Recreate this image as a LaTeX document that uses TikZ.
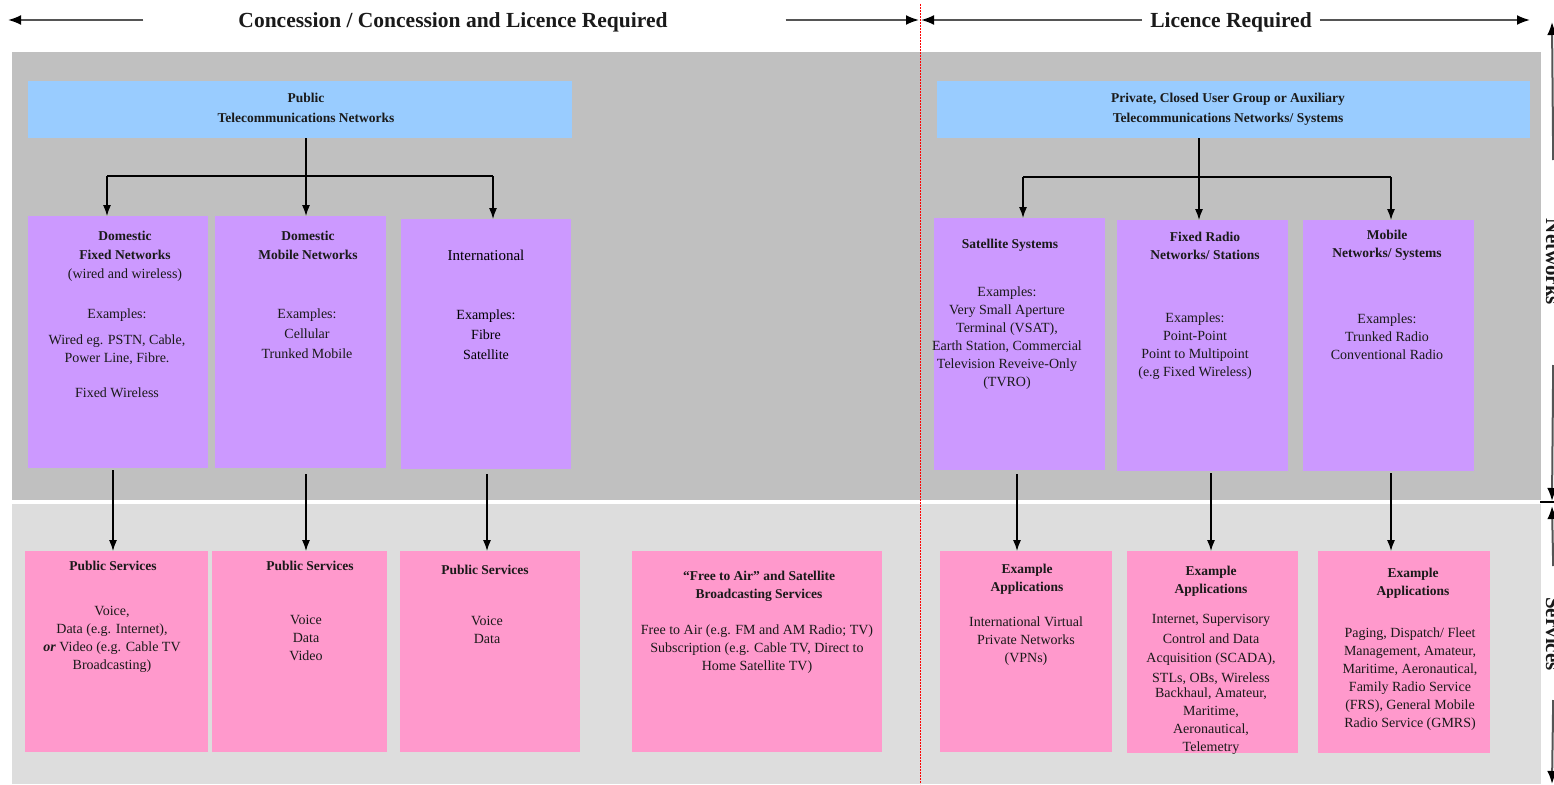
\documentclass[tikz,border=0pt]{standalone}
\usepackage{fontspec}
\setmainfont{Liberation Serif}
\usetikzlibrary{arrows.meta,calc}
\definecolor{topgray}{HTML}{C0C0C0}
\definecolor{botgray}{HTML}{DDDDDD}
\definecolor{bluefill}{HTML}{99CCFF}
\definecolor{purplefill}{HTML}{CC99FF}
\definecolor{pinkfill}{HTML}{FF99CC}
\definecolor{hdrline}{HTML}{555555}
\definecolor{txtcol}{HTML}{1A1A1A}
\begin{document}
\begin{tikzpicture}[x=1pt,y=-1pt,
  box/.style={draw=none, inner sep=0pt, outer sep=0pt},
  bluebx/.style={box, fill=bluefill},
  purbx/.style={box, fill=purplefill},
  pinkbx/.style={box, fill=pinkfill},
  hd/.style={font=\fontsize{13.5}{18}\selectfont\bfseries, align=center, inner sep=0pt, anchor=north, text=txtcol},
  bd/.style={font=\fontsize{14}{18}\selectfont, align=center, inner sep=0pt, anchor=north, text=txtcol},
  conn/.style={line width=1.2pt, black},
  arr/.style={line width=1.2pt, black, -{Latex[length=11pt,width=8pt]}},
  hdarr/.style={draw=hdrline, line width=2pt, -{Latex[length=13pt,width=10pt,color=black]}},
  hdtxt/.style={font=\fontsize{21.5}{24}\selectfont\bfseries, inner sep=0pt, anchor=base, text=txtcol},
  vtxt/.style={font=\fontsize{21}{24}\selectfont\bfseries, inner sep=0pt, anchor=base, rotate=-90, text=txtcol},
  ]
\useasboundingbox (0,0) rectangle (1554,784);
\fill[white] (0,0) rectangle (1554,784);
% background bands
\fill[topgray] (12,52) rectangle (1541,500);
\fill[botgray] (12,504) rectangle (1541,784);
% divider
\draw[red, line width=0.8pt, dash pattern=on 2pt off 1pt] (920,4) -- (920,784);

% header
\node[hdtxt] (hdL) at (453,28) {Concession / Concession and Licence Required};
\node[hdtxt] (hdR) at (1231,28) {Licence Required};
\coordinate (div) at (920,20);
\coordinate (aL) at (8,20);
\coordinate (aR) at (1530,20);
\draw[hdarr] (hdL.west |- div) ++(-95,0) -- (aL);
\draw[hdarr] (hdL.east |- div) ++(118,0) -- ([xshift=-1pt]div);
\draw[hdarr] (hdR.west |- div) ++(-8,0) -- ([xshift=1pt]div);
\draw[hdarr] (hdR.east |- div) ++(8,0) -- (aR);

% right edge labels
\node[vtxt] (vN) at (1546,262) {Networks};
\node[vtxt] (vS) at (1546,634) {Services};
\coordinate (nTop) at (1552,22);
\coordinate (nBot) at (1552,501);
\coordinate (sTop) at (1552,506);
\coordinate (sBot) at (1552,784);
\coordinate (tk) at (1540,502);
\draw[hdarr] (vN.east |- 1552,160) -- (nTop);
\draw[hdarr] (vN.east |- 1552,365) -- (nBot);
\draw[hdarr] (vS.east |- 1552,566) -- (sTop);
\draw[hdarr] (vS.east |- 1552,700) -- (sBot);
\draw[line width=1.2pt] (tk) -- (tk -| 1556,0);

% blue boxes
\node[bluebx, minimum width=544pt, minimum height=57pt] (pubT) at (300,109.5) {};
\node[bluebx, minimum width=593pt, minimum height=57pt] (privT) at (1233.5,109.5) {};
\node[hd, font=\fontsize{13.5}{20}\selectfont\bfseries] (pubTt) at (306,93) {Public\\Telecommunications Networks};
\node[hd, font=\fontsize{13.5}{20}\selectfont\bfseries] (privTt) at (1228,93) {Private, Closed User Group or Auxiliary\\Telecommunications Networks/ Systems};

% purple boxes
\node[purbx, minimum width=180pt, minimum height=252pt] (b1) at (118,342) {};
\node[purbx, minimum width=171pt, minimum height=252pt] (b2) at (300.5,342) {};
\node[purbx, minimum width=170pt, minimum height=250pt] (b3) at (486,344) {};
\node[purbx, minimum width=171pt, minimum height=252pt] (b4) at (1019.5,344) {};
\node[purbx, minimum width=171pt, minimum height=251pt] (b5) at (1202.5,345.5) {};
\node[purbx, minimum width=171pt, minimum height=251pt] (b6) at (1388.5,345.5) {};

% pink boxes
\node[pinkbx, minimum width=183pt, minimum height=201pt] (p1) at (116.5,651.5) {};
\node[pinkbx, minimum width=175pt, minimum height=201pt] (p2) at (299.5,651.5) {};
\node[pinkbx, minimum width=180pt, minimum height=201pt] (p3) at (490,651.5) {};
\node[pinkbx, minimum width=250pt, minimum height=201pt] (p4) at (757,651.5) {};
\node[pinkbx, minimum width=172pt, minimum height=201pt] (p5) at (1026,651.5) {};
\node[pinkbx, minimum width=171pt, minimum height=202pt] (p6) at (1212.5,652) {};
\node[pinkbx, minimum width=172pt, minimum height=202pt] (p7) at (1404,652) {};

% tree left
\coordinate (jL) at (306,176);
\coordinate (jL1) at (107,176);
\coordinate (jL3) at (493,176);
\draw[conn] (jL |- pubT.south) -- (jL);
\draw[conn] (jL1) -- (jL3);
\draw[arr] (jL1) -- (jL1 |- b1.north);
\draw[arr] (jL) -- (jL |- b2.north);
\draw[arr] (jL3) -- (jL3 |- b3.north);
% tree right
\coordinate (jR) at (1199,177);
\coordinate (jR1) at (1023,177);
\coordinate (jR3) at (1391,177);
\draw[conn] (jR |- privT.south) -- (jR);
\draw[conn] (jR1) -- (jR3);
\draw[arr] (jR1) -- (jR1 |- b4.north);
\draw[arr] (jR) -- (jR |- b5.north);
\draw[arr] (jR3) -- (jR3 |- b6.north);

% row arrows
\draw[arr] ([xshift=-5pt,yshift=-2pt]b1.south) -- ([xshift=-5pt]b1.south |- p1.north);
\draw[arr] ([xshift=5.5pt,yshift=-6pt]b2.south) -- ([xshift=5.5pt]b2.south |- p2.north);
\draw[arr] ([xshift=1pt,yshift=-5pt]b3.south) -- ([xshift=1pt]b3.south |- p3.north);
\draw[arr] ([xshift=-2.5pt,yshift=-4pt]b4.south) -- ([xshift=-2.5pt]b4.south |- p5.north);
\draw[arr] ([xshift=8.5pt,yshift=-2pt]b5.south) -- ([xshift=8.5pt]b5.south |- p6.north);
\draw[arr] ([xshift=2.5pt,yshift=-2pt]b6.south) -- ([xshift=2.5pt]b6.south |- p7.north);

% purple texts
\node[hd, font=\fontsize{13.5}{19}\selectfont\bfseries] (b1h) at (125,230.5) {Domestic\\Fixed Networks\\{\mdseries\fontsize{14}{19}\selectfont (wired and wireless)}};
\node[bd] (b1b) at (117,308.5) {Examples:\\[8pt]Wired eg. PSTN, Cable,\\Power Line, Fibre.\\[17pt]Fixed Wireless};
\node[hd, font=\fontsize{13.5}{19}\selectfont\bfseries] (b2h) at (308,230.5) {Domestic\\Mobile Networks};
\node[bd, font=\fontsize{14}{20}\selectfont] (b2b) at (307,308.5) {Examples:\\Cellular\\Trunked Mobile};
\node[bd, font=\fontsize{15}{20}\selectfont, text=black] (b3h) at (486,249.5) {International};
\node[bd, font=\fontsize{14}{20}\selectfont, text=black] (b3b) at (486,309.5) {Examples:\\Fibre\\Satellite};
\node[hd] (b4h) at (1010,238.5) {Satellite Systems};
\node[bd] (b4b) at (1007,286.5) {Examples:\\Very Small Aperture\\Terminal (VSAT),\\Earth Station, Commercial\\Television Reveive-Only\\(TVRO)};
\node[hd] (b5h) at (1205,231.5) {Fixed Radio\\Networks/ Stations};
\node[bd] (b5b) at (1195,312.5) {Examples:\\Point-Point\\Point to Multipoint\\(e.g Fixed Wireless)};
\node[hd] (b6h) at (1387,229.5) {Mobile\\Networks/ Systems};
\node[bd] (b6b) at (1387,313.5) {Examples:\\Trunked Radio\\Conventional Radio};

% pink texts
\node[hd] (p1h) at (113,560.5) {Public Services};
\node[bd] (p1b) at (112,606.5) {Voice,\\Data (e.g. Internet),\\\textbf{\textit{or}} Video (e.g. Cable TV\\Broadcasting)};
\node[hd] (p2h) at (310,560.5) {Public Services};
\node[bd] (p2b) at (306,615.5) {Voice\\Data\\Video};
\node[hd] (p3h) at (485,564.5) {Public Services};
\node[bd] (p3b) at (487,616.5) {Voice\\Data};
\node[hd] (p4h) at (759,570.5) {“Free to Air” and Satellite\\Broadcasting Services};
\node[bd] (p4b) at (757,624.5) {Free to Air (e.g. FM and AM Radio; TV)\\Subscription (e.g. Cable TV, Direct to\\Home Satellite TV)};
\node[hd] (p5h) at (1027,563.5) {Example\\Applications};
\node[bd] (p5b) at (1026,616.5) {International Virtual\\Private Networks\\(VPNs)};
\node[hd] (p6h) at (1211,565.5) {Example\\Applications};
\node[bd] (p6b) at (1211,614.5) {Internet, Supervisory\\[1.5pt]Control and Data\\[1.5pt]Acquisition (SCADA),\\[1.5pt]STLs, OBs, Wireless\\[-3pt]Backhaul, Amateur,\\Maritime,\\Aeronautical,\\Telemetry};
\node[hd] (p7h) at (1413,567.5) {Example\\Applications};
\node[bd] (p7b) at (1410,627.5) {Paging, Dispatch/ Fleet\\Management, Amateur,\\Maritime, Aeronautical,\\Family Radio Service\\(FRS), General Mobile\\Radio Service (GMRS)};
\end{tikzpicture}
\end{document}
